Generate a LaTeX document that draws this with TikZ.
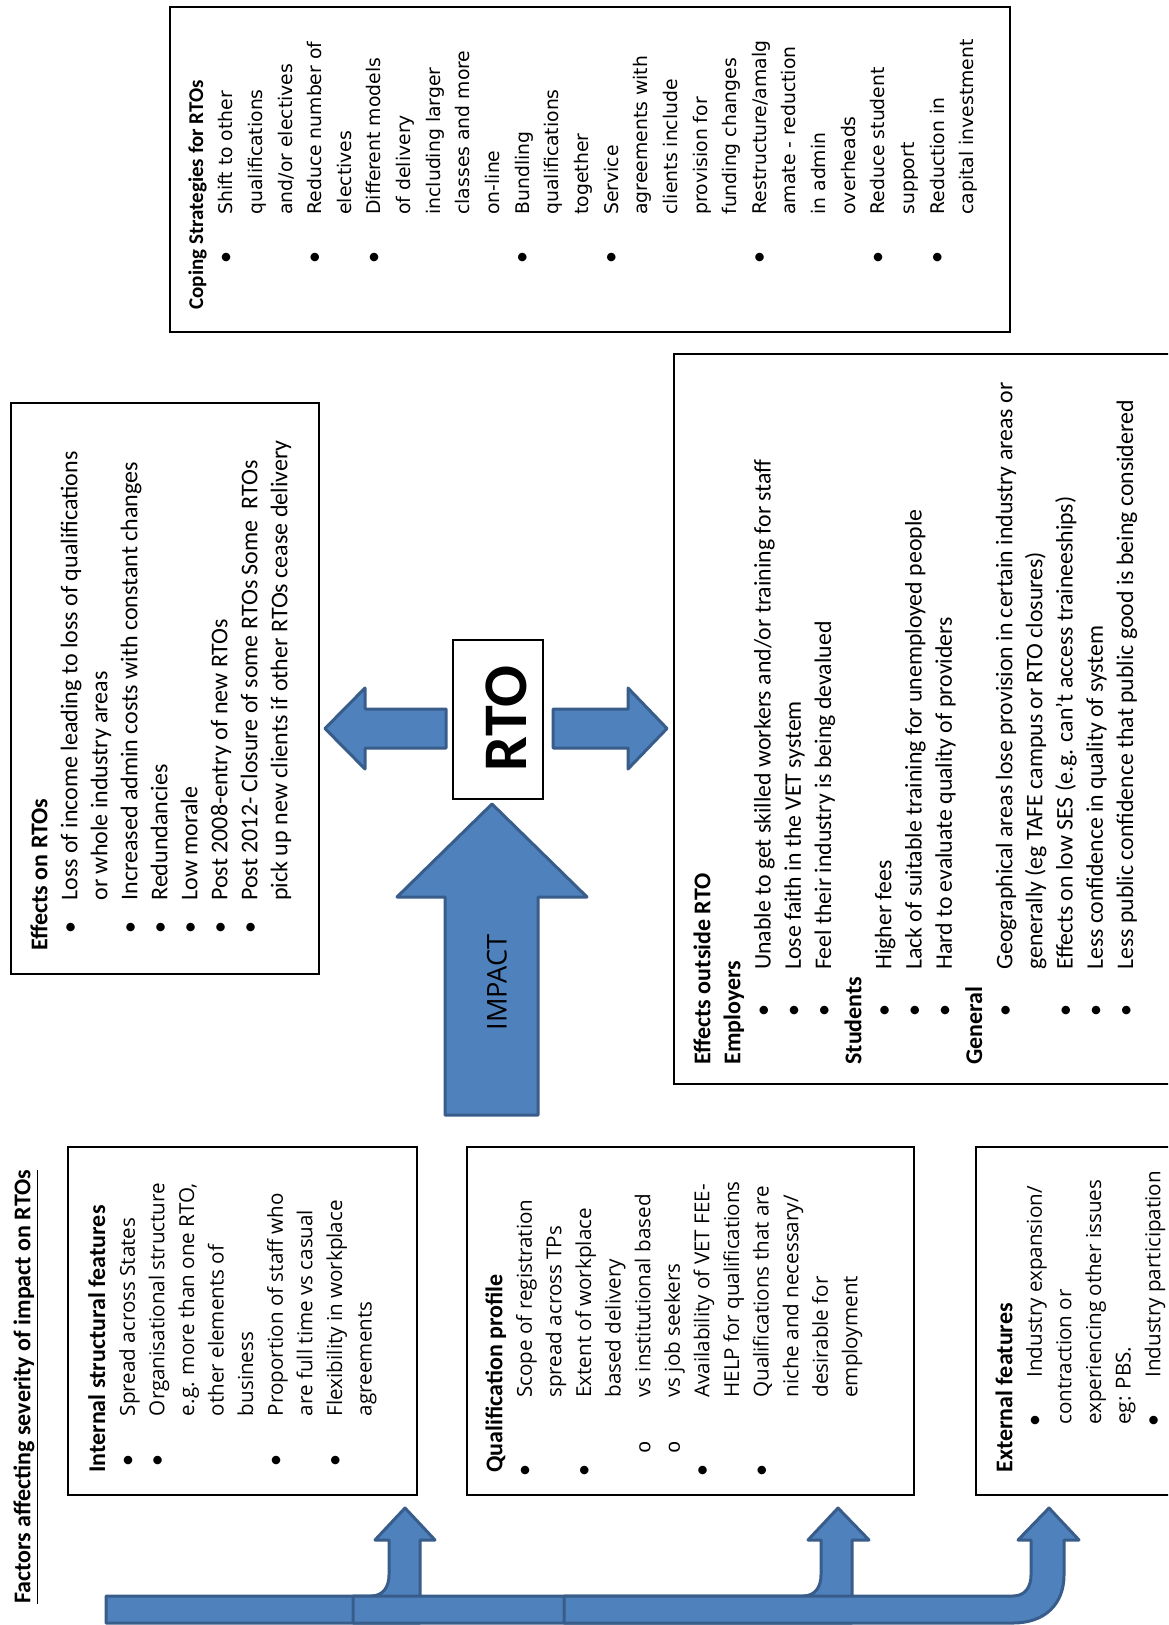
\documentclass[tikz,border=0pt]{standalone}
\usepackage{fontspec}
\setmainfont{Carlito}
\newfontfamily\osans{Open Sans}
\newfontfamily\dvs{DejaVu Sans}
\newfontfamily\cmono{Liberation Mono}
\definecolor{arrfill}{HTML}{4F81BD}
\definecolor{arrline}{HTML}{385D8A}
\newcommand\bl[2]{\rlap{\makebox[#1][c]{\rmfamily\fontsize{12pt}{\baselineskip}\selectfont\textbullet}}\hspace*{#2}}
\newcommand\ci[2]{\rlap{\makebox[#1][c]{\cmono o}}\hspace*{#2}}
\newcommand\ind[1]{\hspace*{#1}}
\newcommand\hd[1]{{\rmfamily\bfseries\fontsize{12pt}{\baselineskip}\selectfont #1}}
\newcommand\hdc[1]{{\rmfamily\bfseries\fontsize{10.5pt}{\baselineskip}\selectfont #1}}
\begin{document}
\begin{tikzpicture}[x=0.5pt,y=-0.5pt,
  box/.style={draw=black,line width=1pt},
  blockarrow/.style={fill=arrfill,draw=arrline,line width=1.5pt,line join=round},
  txt/.style={rotate=90,anchor=north west,inner sep=0pt,align=left}]
\useasboundingbox (0,0) rectangle (1168,1625);
\clip (0,0) rectangle (1168,1625);
\fill[white] (0,0) rectangle (1168,1625);

% title
\node[txt,font=\bfseries\fontsize{12pt}{14pt}\selectfont] (title) at (13,1604) {\underline{Factors affecting severity of impact on RTOs}};

% factor boxes
\draw[box] (68.3,1147) rectangle (416.7,1495);
\node[txt,font=\osans\fontsize{10.3pt}{14.8pt}\selectfont] (intern) at (88,1473) {\hd{Internal structural features}\\
\bl{12.4pt}{28.3pt}Spread across States\\
\bl{12.4pt}{28.3pt}Organisational structure\\
\ind{28.3pt}e.g. more than one RTO,\\
\ind{28.3pt}other elements of\\
\ind{28.3pt}business\\
\bl{12.4pt}{28.3pt}Proportion of staff who\\
\ind{28.3pt}are full time vs casual\\
\bl{12.4pt}{28.3pt}Flexibility in workplace\\
\ind{28.3pt}agreements};

\draw[box] (467.3,1147) rectangle (914,1495);
\node[txt,font=\osans\fontsize{10.3pt}{14.8pt}\selectfont] (qual) at (485,1473) {\hd{Qualification profile}\\
\bl{2pt}{37.5pt}Scope of registration\\
\ind{37.5pt}spread across TPs\\
\bl{2pt}{37.5pt}Extent of workplace\\
\ind{37.5pt}based delivery\\
\ci{25pt}{37.5pt}vs institutional based\\
\ci{25pt}{37.5pt}vs job seekers\\
\bl{2pt}{37.5pt}Availability of VET FEE-\\
\ind{37.5pt}HELP for qualifications\\
\bl{2pt}{37.5pt}Qualifications that are\\
\ind{37.5pt}niche and necessary/\\
\ind{37.5pt}desirable for\\
\ind{37.5pt}employment};

\draw[box] (976,1147) rectangle (1185,1495);
\node[txt,font=\osans\fontsize{10.3pt}{14.8pt}\selectfont] (ext) at (995,1473) {\hd{External features}\\
\bl{52pt}{47.5pt}Industry expansion/\\
\ind{24pt}contraction or\\
\ind{24pt}experiencing other issues\\
\ind{24pt}eg: PBS.\\
\bl{52pt}{47.5pt}Industry participation};

% effects on RTOs
\draw[box] (10.7,403) rectangle (319,974);
\node[txt,font=\fontsize{12pt}{15pt}\selectfont] (effrto) at (30,951) {\hd{Effects on RTOs}\\
\bl{23pt}{25pt}Loss of income leading to loss of qualifications\\
\ind{25pt}or whole industry areas\\
\bl{23pt}{25pt}Increased admin costs with constant changes\\
\bl{23pt}{25pt}Redundancies\\
\bl{23pt}{25pt}Low morale\\
\bl{23pt}{25pt}Post 2008-entry of new RTOs\\
\bl{23pt}{25pt}Post 2012- Closure of some RTOs Some \ RTOs\\
\ind{25pt}pick up new clients if other RTOs cease delivery};

% effects outside RTO
\draw[box] (674,354.5) rectangle (1185,1084);
\node[txt,font=\fontsize{11.9pt}{15.1pt}\selectfont] (effout) at (693,1065) {\hd{Effects outside RTO}\\
\hd{Employers}\\
\bl{53.6pt}{47.4pt}Unable to get skilled workers and/or training for staff\\
\bl{53.6pt}{47.4pt}Lose faith in the VET system\\
\bl{53.6pt}{47.4pt}Feel their industry is being devalued\\
\hd{Students}\\
\bl{53.6pt}{47.4pt}Higher fees\\
\bl{53.6pt}{47.4pt}Lack of suitable training for unemployed people\\
\bl{53.6pt}{47.4pt}Hard to evaluate quality of providers\\
\hd{General}\\
\bl{53.6pt}{47.4pt}Geographical areas lose provision in certain industry areas or\\
\ind{47.4pt}generally (eg TAFE campus or RTO closures)\\
\bl{53.6pt}{47.4pt}Effects on low SES (e.g. can’t access traineeships)\\
\bl{53.6pt}{47.4pt}Less confidence in quality of system\\
\bl{53.6pt}{47.4pt}Less public confidence that public good is being considered};

% coping strategies
\draw[box] (170,6.7) rectangle (1010,331.7);
\node[txt,font=\dvs\fontsize{9.4pt}{14.82pt}\selectfont] (coping) at (188,310) {\hdc{Coping Strategies for RTOs}\\
\bl{52.4pt}{47.5pt}Shift to other\\
\ind{47.5pt}qualifications\\
\ind{47.5pt}and/or electives\\
\bl{52.4pt}{47.5pt}Reduce number of\\
\ind{47.5pt}electives\\
\bl{52.4pt}{47.5pt}Different models\\
\ind{47.5pt}of delivery\\
\ind{47.5pt}including larger\\
\ind{47.5pt}classes and more\\
\ind{47.5pt}on-line\\
\bl{52.4pt}{47.5pt}Bundling\\
\ind{47.5pt}qualifications\\
\ind{47.5pt}together\\
\bl{52.4pt}{47.5pt}Service\\
\ind{47.5pt}agreements with\\
\ind{47.5pt}clients include\\
\ind{47.5pt}provision for\\
\ind{47.5pt}funding changes\\
\bl{52.4pt}{47.5pt}Restructure/amalg\\
\ind{47.5pt}amate - reduction\\
\ind{47.5pt}in admin\\
\ind{47.5pt}overheads\\
\bl{52.4pt}{47.5pt}Reduce student\\
\ind{47.5pt}support\\
\bl{52.4pt}{47.5pt}Reduction in\\
\ind{47.5pt}capital investment};

% RTO box and arrows
\draw[box] (453,640) rectangle (543,799);
\node[rotate=90,inner sep=0pt,font=\bfseries\fontsize{31pt}{36pt}\selectfont] (rto) at (506,718.5) {RTO};

\draw[blockarrow] (445,1115) -- (445,897) -- (397,897) -- (492,804) -- (587,897) -- (538,897) -- (538,1115) -- cycle;
\node[rotate=90,inner sep=0pt,font=\osans\fontsize{13.6pt}{16pt}\selectfont] (impact) at (497,982.5) {IMPACT};

\draw[blockarrow] (446,709) -- (365,709) -- (365,688) -- (325,728.5) -- (365,769) -- (365,748) -- (446,748) -- cycle;
\draw[blockarrow] (553,709) -- (628,709) -- (628,688) -- (667,728.5) -- (628,769) -- (628,748) -- (553,748) -- cycle;

% bottom bent arrows
\draw[blockarrow] (106,1623) -- (106,1596) -- (371,1596) .. controls (383,1596) and (389,1587) .. (389,1575) -- (389,1540) -- (375,1540) -- (405,1508) -- (435,1540) -- (420,1540) -- (420,1623) -- cycle;
\draw[blockarrow] (353,1623) -- (353,1596) -- (803,1596) .. controls (815,1596) and (821,1587) .. (821,1575) -- (821,1540) -- (808,1540) -- (838,1508) -- (869,1540) -- (852,1540) -- (852,1623) -- cycle;
\draw[blockarrow] (564,1623) -- (564,1596) -- (1013,1596) .. controls (1025,1596) and (1031,1587) .. (1031,1575) -- (1031,1540) -- (1018,1540) -- (1049,1508) -- (1079,1540) -- (1064,1540) -- (1064,1575) .. controls (1064,1604) and (1045,1623) .. (1013,1623) -- cycle;
\end{tikzpicture}
\end{document}
